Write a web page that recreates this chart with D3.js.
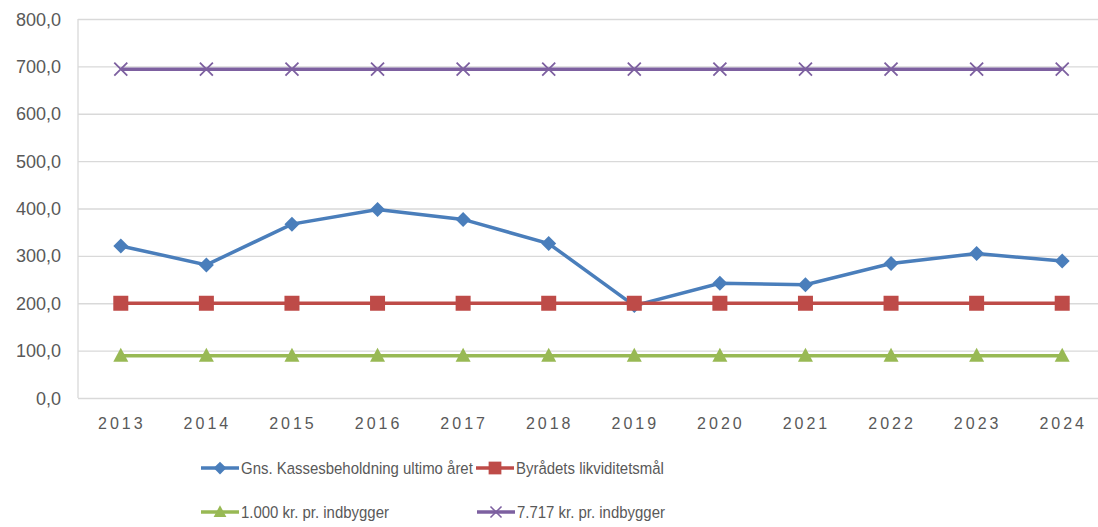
<!DOCTYPE html>
<html>
<head>
<meta charset="utf-8">
<script src="https://d3js.org/d3.v7.min.js"></script>
<style>
  body { margin: 0; background: #fff; }
  text { font-family: "Liberation Sans", Arial, sans-serif; fill: #595959; }
</style>
</head>
<body>
<svg width="1098" height="527"></svg>
<script>
// data
var years = ["2013","2014","2015","2016","2017","2018","2019","2020","2021","2022","2023","2024"];
var kasse = [321, 281, 367, 398, 377, 326, 195, 242, 239, 284, 305, 289];
var maal  = [200, 200, 200, 200, 200, 200, 200, 200, 200, 200, 200, 200];
var kr1000 = [89, 89, 89, 89, 89, 89, 89, 89, 89, 89, 89, 89];
var kr7717 = [694, 694, 694, 694, 694, 694, 694, 694, 694, 694, 694, 694];
var yTicks = [0, 100, 200, 300, 400, 500, 600, 700, 800];

var series = [
  {name: "Gns. Kassesbeholdning ultimo året", values: kasse, color: "#4a7ebb", marker: "diamond"},
  {name: "Byrådets likviditetsmål", values: maal, color: "#be4b48", marker: "square"},
  {name: "1.000 kr. pr. indbygger", values: kr1000, color: "#98b954", marker: "triangle"},
  {name: "7.717 kr. pr. indbygger", values: kr7717, color: "#7d60a0", marker: "cross"}
];

var svg = d3.select("svg");
var plotL = 78, plotR = 1105, plotT = 19, plotB = 398;

var x = d3.scalePoint().domain(years).range([plotL, plotR]).padding(0.5);
var y = d3.scaleLinear().domain([0, 800]).range([plotB, plotT]);

// gridlines
svg.append("g")
  .attr("transform", "translate(" + plotL + ",0)")
  .call(d3.axisLeft(y).tickValues(yTicks).tickSize(-(plotR - plotL)).tickFormat(""))
  .call(function(g) { g.select(".domain").remove(); })
  .selectAll("line").attr("stroke", "#d9d9d9").attr("stroke-width", 1.3);

// y labels
svg.append("g").selectAll("text.ylab")
  .data(yTicks).enter().append("text")
  .attr("class", "ylab")
  .attr("x", 61)
  .attr("y", function(d) { return y(d) + 6.5; })
  .attr("text-anchor", "end")
  .style("font-size", "18px")
  .text(function(d) { return d3.format(".1f")(d).replace(".", ","); });

// left axis line
svg.append("line")
  .attr("x1", plotL).attr("x2", plotL).attr("y1", plotT).attr("y2", plotB)
  .attr("stroke", "#d9d9d9").attr("stroke-width", 1.3);

// x labels
svg.append("g").selectAll("text.xlab")
  .data(years).enter().append("text")
  .attr("class", "xlab")
  .attr("x", function(d) { return x(d) + 1; })
  .attr("y", 429)
  .attr("text-anchor", "middle")
  .style("font-size", "16px")
  .style("letter-spacing", "3px")
  .text(function(d) { return d; });

function drawMarker(g, type, color) {
  if (type === "diamond") {
    g.append("path").attr("d", "M0,-7.5L7.5,0L0,7.5L-7.5,0Z").attr("fill", color);
  } else if (type === "square") {
    g.append("rect").attr("x", -7.5).attr("y", -7.5).attr("width", 15).attr("height", 15).attr("fill", color);
  } else if (type === "triangle") {
    g.append("path").attr("d", "M0,-8L7.5,6L-7.5,6Z").attr("fill", color);
  } else {
    g.append("path").attr("d", "M-6.5,-6.5L6.5,6.5M-6.5,6.5L6.5,-6.5").attr("stroke", color).attr("stroke-width", 1.8);
  }
}

var line = d3.line()
  .x(function(d, i) { return x(years[i]); })
  .y(function(d) { return y(d); });

// draw in order so blue sits under red like the original
var order = [3, 2, 0, 1];
order.forEach(function(k) {
  var s = series[k];
  var g = svg.append("g");
  g.append("path")
    .attr("d", line(s.values))
    .attr("fill", "none")
    .attr("stroke", s.color)
    .attr("stroke-width", 3.5);
  g.selectAll("g.m").data(s.values).enter().append("g")
    .attr("class", "m")
    .attr("transform", function(d, i) { return "translate(" + x(years[i]) + "," + y(d) + ")"; })
    .each(function() { drawMarker(d3.select(this), s.marker, s.color); });
});

// legend
var legendPos = [[201, 468], [476, 468], [201, 512], [477, 512]];
series.forEach(function(s, i) {
  var p = legendPos[i];
  var g = svg.append("g").attr("transform", "translate(" + p[0] + "," + p[1] + ")");
  g.append("line").attr("x1", 0).attr("x2", 38).attr("y1", 0).attr("y2", 0)
    .attr("stroke", s.color).attr("stroke-width", 3.5);
  var m = g.append("g").attr("transform", "translate(19,0) scale(0.85)");
  drawMarker(m, s.marker, s.color);
  g.append("text").attr("transform", "translate(40,6) scale(0.88,1)")
    .style("font-size", "17px")
    .text(s.name);
});
</script>
</body>
</html>
